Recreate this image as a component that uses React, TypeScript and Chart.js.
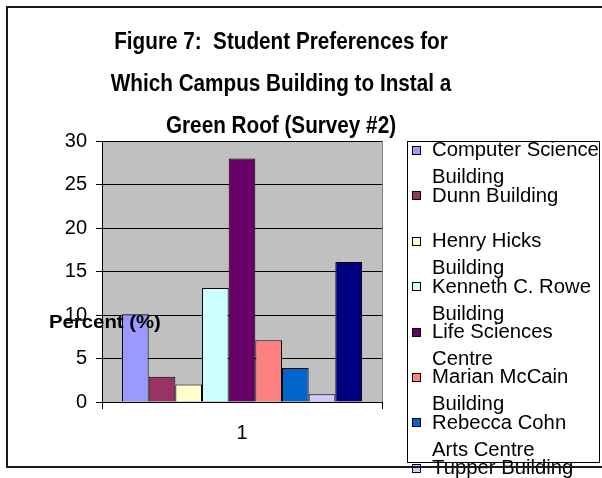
import React, { useEffect, useRef } from "react";
import { Chart, registerables } from "chart.js";

Chart.register(...registerables);

const titleLines = [
  "Figure 7:  Student Preferences for",
  "Which Campus Building to Instal a",
  "Green Roof (Survey #2)",
];
const yAxisLabel = "Percent (%)";
const categories = ["1"];
const buildings = [
  "Computer Science Building",
  "Dunn Building",
  "Henry Hicks Building",
  "Kenneth C. Rowe Building",
  "Life Sciences Centre",
  "Marian McCain Building",
  "Rebecca Cohn Arts Centre",
  "Tupper Building",
  "Other",
];
const percents = [10.1, 2.9, 2.0, 13.1, 28.0, 7.1, 3.9, 0.9, 16.1];
const yTicks = [0, 5, 10, 15, 20, 25, 30];

const barColors = [
  "#9999FF",
  "#993366",
  "#FFFFCC",
  "#CCFFFF",
  "#660066",
  "#FF8080",
  "#0066CC",
  "#CCCCFF",
  "#000080",
];

const FONT = "'Liberation Sans', Arial, sans-serif";

function wrapText(ctx: CanvasRenderingContext2D, text: string, maxW: number, sx: number) {
  const words = text.split(" ");
  const lines: string[] = [];
  let cur = "";
  for (const w of words) {
    const test = cur ? cur + " " + w : w;
    if (ctx.measureText(test).width * sx <= maxW || !cur) cur = test;
    else {
      lines.push(cur);
      cur = w;
    }
  }
  if (cur) lines.push(cur);
  return lines;
}

const decorPlugin = {
  id: "decor",
  beforeDraw(chart: any) {
    const { ctx, chartArea: a } = chart;
    ctx.save();
    ctx.fillStyle = "#ffffff";
    ctx.fillRect(0, 0, chart.width, chart.height);
    ctx.fillStyle = "#C0C0C0";
    ctx.fillRect(a.left, a.top, a.right - a.left, a.bottom - a.top);
    ctx.strokeStyle = "#808080";
    ctx.lineWidth = 1;
    ctx.strokeRect(a.left + 0.5, a.top + 0.5, a.right - a.left, a.bottom - a.top);
    ctx.restore();
  },
  afterDraw(chart: any) {
    const { ctx } = chart;
    ctx.save();
    // title
    ctx.fillStyle = "#000";
    ctx.textAlign = "center";
    ctx.textBaseline = "alphabetic";
    ctx.font = `bold 23px ${FONT}`;
    const baselines = [49, 91, 133];
    titleLines.forEach((t, i) => {
      ctx.save();
      ctx.translate(281, baselines[i]);
      ctx.scale(0.9, 1);
      ctx.fillText(t, 0, 0);
      ctx.restore();
    });
    // y-axis label
    ctx.textAlign = "left";
    ctx.font = `bold 19px ${FONT}`;
    ctx.save();
    ctx.translate(49, 328);
    ctx.scale(1.07, 1);
    ctx.fillText(yAxisLabel, 0, 0);
    ctx.restore();
    // legend
    const boxL = 407, boxT = 141, boxR = 599, boxB = 462;
    ctx.fillStyle = "#fff";
    ctx.fillRect(boxL, boxT, boxR - boxL, boxB - boxT);
    ctx.strokeStyle = "#000";
    ctx.lineWidth = 1;
    ctx.strokeRect(boxL + 0.5, boxT + 0.5, boxR - boxL, boxB - boxT);
    ctx.font = `19.5px ${FONT}`;
    ctx.textBaseline = "middle";
    const sx = 1.04;
    chart.data.datasets.forEach((ds: any, i: number) => {
      const cy = 150 + i * 45.4;
      ctx.fillStyle = ds.backgroundColor;
      ctx.fillRect(412, Math.round(cy) - 4, 9, 9);
      ctx.strokeStyle = "#000";
      ctx.strokeRect(412.5, Math.round(cy) - 3.5, 8, 8);
      ctx.fillStyle = "#000";
      const lines = wrapText(ctx, ds.label, 172, sx);
      lines.forEach((ln, j) => {
        ctx.save();
        ctx.translate(432, cy + j * 27 + 1);
        ctx.scale(sx, 1);
        ctx.fillText(ln, 0, 0);
        ctx.restore();
      });
    });
    // outer chart border
    ctx.strokeStyle = "#1a1a1a";
    ctx.lineWidth = 2;
    ctx.strokeRect(7, 7, 700, 460);
    ctx.restore();
  },
};

export default function App() {
  const ref = useRef<HTMLCanvasElement | null>(null);
  useEffect(() => {
    if (!ref.current) return;
    const chart = new Chart(ref.current, {
      type: "bar",
      data: {
        labels: categories,
        datasets: buildings.map((b, i) => ({
          label: b,
          data: [percents[i]],
          backgroundColor: barColors[i],
          borderColor: "#000000",
          borderWidth: 1,
          categoryPercentage: 0.857,
          barPercentage: 1,
        })),
      },
      options: {
        responsive: false,
        animation: false,
        devicePixelRatio: 1,
        layout: { padding: { left: 0, top: 141, right: 220, bottom: 0 } },
        plugins: {
          legend: { display: false },
          title: { display: false },
          tooltip: { enabled: false },
        },
        scales: {
          x: {
            afterFit: (s: any) => {
              s.height = 76;
            },
            grid: {
              display: true,
              drawOnChartArea: false,
              drawTicks: true,
              tickLength: 7,
              color: "#000",
              offset: true,
            },
            border: { display: true, color: "#000", width: 1 },
            ticks: {
              color: "#000",
              font: { family: FONT, size: 20 },
              padding: 12,
            },
          },
          y: {
            min: 0,
            max: 30,
            afterFit: (s: any) => {
              s.width = 102;
            },
            afterBuildTicks: (s: any) => {
              s.ticks = yTicks.map((v) => ({ value: v }));
            },
            grid: {
              color: "#000",
              lineWidth: 1,
              drawTicks: true,
              tickLength: 6,
            },
            border: { display: true, color: "#000", width: 1 },
            ticks: {
              color: "#000",
              font: { family: FONT, size: 20 },
              padding: 9,
            },
          },
        },
      },
      plugins: [decorPlugin],
    });
    return () => chart.destroy();
  }, []);
  return (
    <div style={{ position: "absolute", left: 0, top: 0, width: 602, height: 478 }}>
      <canvas ref={ref} width={602} height={478} style={{ display: "block", width: 602, height: 478 }} />
    </div>
  );
}
